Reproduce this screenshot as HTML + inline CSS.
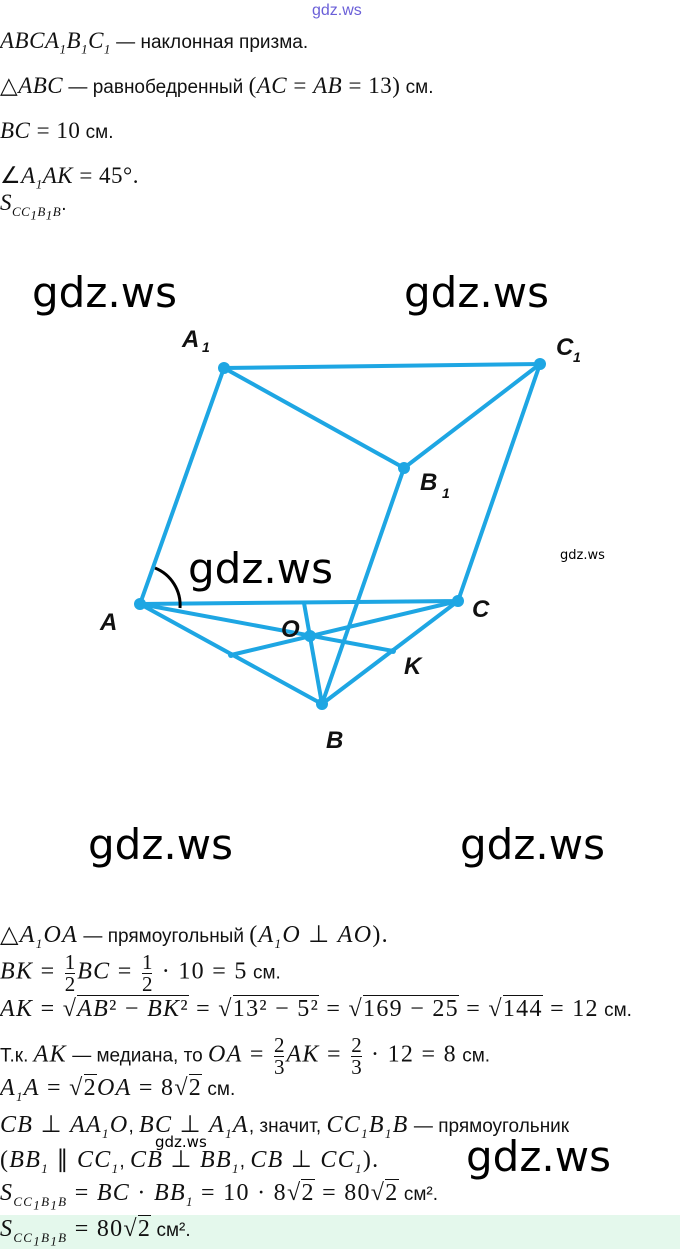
<!DOCTYPE html>
<html><head><meta charset="utf-8"><style>
body{margin:0;width:680px;height:1249px;background:#fff;position:relative;overflow:hidden;font-family:"Liberation Sans",sans-serif;color:#111}
.l{position:absolute;left:0;white-space:nowrap;font-size:19px}
.m{font-family:"Liberation Serif",serif;font-style:italic;font-size:23px;letter-spacing:0.5px}
.n{font-family:"Liberation Serif",serif;font-size:23px;letter-spacing:0.5px}
sub{font-size:13px}
.b .m,.b .n{font-size:24px;letter-spacing:1.3px}
.b{font-size:19px}
.w{position:absolute;font-family:"DejaVu Sans","Liberation Sans",sans-serif;font-size:42px;color:#000;white-space:nowrap}
.ws{position:absolute;font-family:"DejaVu Sans",sans-serif;font-size:13px;color:#000}
.fr{display:inline-block;vertical-align:middle;text-align:center;font-family:"Liberation Serif",serif;font-size:21px;line-height:21px;margin:0 2px}
.fr span{display:block}
.fr span:first-child{border-bottom:1px solid #111}
.sq{border-top:1px solid #111}
</style></head><body>
<div style="position:absolute;left:312px;top:2px;font-size:16px;color:#6a5fd8">gdz.ws</div>
<div class="l" style="top:28px"><span class="m">ABCA<sub>1</sub>B<sub>1</sub>C<sub>1</sub></span> — наклонная призма.</div>
<div class="l" style="top:73px"><span class="n">△</span><span class="m">ABC</span> — равнобедренный <span class="n">(</span><span class="m">AC</span><span class="n"> = </span><span class="m">AB</span><span class="n"> = 13)</span> см.</div>
<div class="l" style="top:118px"><span class="m">BC</span><span class="n"> = 10</span> см.</div>
<div class="l" style="top:163px"><span class="n">∠</span><span class="m">A<sub>1</sub>AK</span><span class="n"> = 45°.</span></div>
<div class="l" style="top:190px"><span class="m">S<sub>CC<sub>1</sub>B<sub>1</sub>B</sub></span>.</div>

<div class="w" style="left:32px;top:268px">gdz.ws</div>
<div class="w" style="left:404px;top:268px">gdz.ws</div>
<div class="w" style="left:188px;top:544px">gdz.ws</div>
<div class="w" style="left:88px;top:820px">gdz.ws</div>
<div class="w" style="left:460px;top:820px">gdz.ws</div>
<div class="w" style="left:466px;top:1132px">gdz.ws</div>
<div class="ws" style="left:560px;top:548px">gdz.ws</div>
<div class="ws" style="left:155px;top:1133px;font-size:15px">gdz.ws</div>

<svg style="position:absolute;left:0;top:0" width="680" height="1249">
<g stroke="#1ea6e3" stroke-width="4" fill="none" stroke-linecap="round">
<path d="M140 604L224 368L540 364L458 601Z"/>
<path d="M224 368L404 468L540 364M404 468L322 704"/>
<path d="M140 604L322 704L458 601M140 604L393 651M458 601L231 655M322 704L304 603"/>
</g>
<g fill="#1ea6e3">
<circle cx="224" cy="368" r="6"/><circle cx="540" cy="364" r="6"/><circle cx="404" cy="468" r="6"/>
<circle cx="140" cy="604" r="6"/><circle cx="458" cy="601" r="6"/><circle cx="322" cy="704" r="6"/>
<circle cx="310" cy="636" r="6"/><circle cx="231" cy="655" r="3"/><circle cx="393" cy="651" r="3"/>
</g>
<path d="M155 568A40 40 0 0 1 180 608" stroke="#000" stroke-width="3" fill="none"/>
<g font-family="Liberation Sans,sans-serif" font-style="italic" font-weight="bold" font-size="24" fill="#111">
<text x="182" y="347">A</text><text x="202" y="352" font-size="14">1</text>
<text x="556" y="355">C</text><text x="573" y="362" font-size="14">1</text>
<text x="420" y="490">B</text><text x="442" y="498" font-size="14">1</text>
<text x="100" y="630">A</text><text x="472" y="617">C</text>
<text x="281" y="637">O</text><text x="404" y="674">K</text><text x="326" y="748">B</text>
</g>
</svg>

<div class="l b" style="top:920px"><span class="n">△</span><span class="m">A<sub>1</sub>OA</span> — прямоугольный <span class="n">(</span><span class="m">A<sub>1</sub>O</span><span class="n"> ⊥ </span><span class="m">AO</span><span class="n">).</span></div>
<div class="l b" style="top:952px"><span class="m">BK</span><span class="n"> = </span><span class="fr"><span>1</span><span>2</span></span><span class="m">BC</span><span class="n"> = </span><span class="fr"><span>1</span><span>2</span></span><span class="n"> · 10 = 5</span> см.</div>
<div class="l b" style="top:996px"><span class="m">AK</span><span class="n"> = √<span class="sq"><i>AB</i>² − <i>BK</i>²</span> = √<span class="sq">13² − 5²</span> = √<span class="sq">169 − 25</span> = √<span class="sq">144</span> = 12</span> см.</div>
<div class="l b" style="top:1035px">Т.к. <span class="m">AK</span> — медиана, то <span class="m">OA</span><span class="n"> = </span><span class="fr"><span>2</span><span>3</span></span><span class="m">AK</span><span class="n"> = </span><span class="fr"><span>2</span><span>3</span></span><span class="n"> · 12 = 8</span> см.</div>
<div class="l b" style="top:1075px"><span class="m">A<sub>1</sub>A</span><span class="n"> = √<span class="sq">2</span></span><span class="m">OA</span><span class="n"> = 8√<span class="sq">2</span></span> см.</div>
<div class="l b" style="top:1110px"><span class="m">CB</span><span class="n"> ⊥ </span><span class="m">AA<sub>1</sub>O</span>, <span class="m">BC</span><span class="n"> ⊥ </span><span class="m">A<sub>1</sub>A</span>, значит, <span class="m">CC<sub>1</sub>B<sub>1</sub>B</span> — прямоугольник</div>
<div class="l b" style="top:1145px"><span class="n">(</span><span class="m">BB<sub>1</sub></span><span class="n"> ∥ </span><span class="m">CC<sub>1</sub></span>, <span class="m">CB</span><span class="n"> ⊥ </span><span class="m">BB<sub>1</sub></span>, <span class="m">CB</span><span class="n"> ⊥ </span><span class="m">CC<sub>1</sub></span><span class="n">).</span></div>
<div class="l b" style="top:1180px"><span class="m">S<sub>CC<sub>1</sub>B<sub>1</sub>B</sub></span><span class="n"> = </span><span class="m">BC</span><span class="n"> · </span><span class="m">BB<sub>1</sub></span><span class="n"> = 10 · 8√<span class="sq">2</span> = 80√<span class="sq">2</span></span> см².</div>
<div style="position:absolute;left:0;top:1215px;width:680px;height:34px;background:#e4f8ec"></div>
<div class="l b" style="top:1216px"><span class="m">S<sub>CC<sub>1</sub>B<sub>1</sub>B</sub></span><span class="n"> = 80√<span class="sq">2</span></span> см².</div>
</body></html>
